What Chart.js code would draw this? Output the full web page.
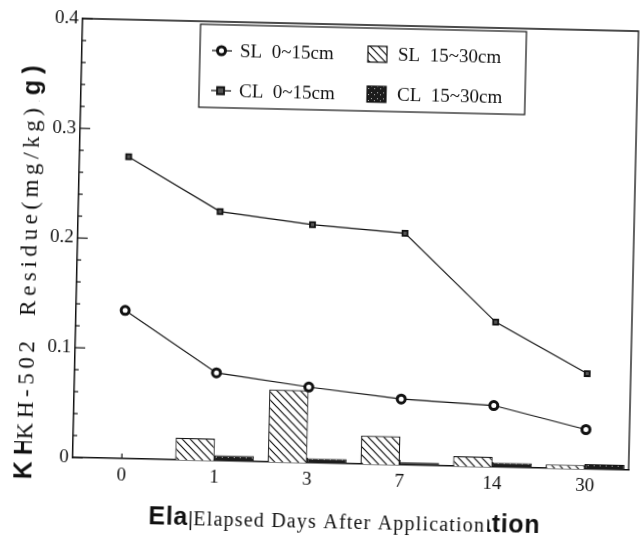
<!DOCTYPE html>
<html>
<head>
<meta charset="utf-8">
<script src="https://cdn.jsdelivr.net/npm/chart.js@4.4.1/dist/chart.umd.min.js"></script>
<style>
  html, body { margin: 0; padding: 0; background: #fff; overflow: hidden; }
  #wrap { width: 640px; height: 544px; }
  /* the scanned figure is tilted a little */
  #chart { display: block; transform: rotate(1.3deg); transform-origin: 320px 272px; }
</style>
</head>
<body>
<div id="wrap"><canvas id="chart" width="640" height="544"></canvas></div>
<script>
/*-----------------------------
Data
------------------------------*/
const days = ['0', '1', '3', '7', '14', '30'];
const slTop = [0.135, 0.080, 0.069, 0.060, 0.056, 0.036];   // SL 0~15cm
const clTop = [0.275, 0.227, 0.217, 0.211, 0.132, 0.087];   // CL 0~15cm
const slSub = [0, 0.020, 0.066, 0.026, 0.009, 0.0035];      // SL 15~30cm
const clSub = [0, 0.005, 0.004, 0.0025, 0.004, 0.0045];     // CL 15~30cm
const yTicks = [0, 0.1, 0.2, 0.3, 0.4];

const yTitle = 'KH-502  Residue(mg/kg)';
const xTitle = 'Elapsed Days After Application';

const serif = '"Liberation Serif", "DejaVu Serif", serif';
const sans = '"Liberation Sans", "DejaVu Sans", sans-serif';

//----------------------------------------
// fill patterns
//----------------------------------------
function hatch() {
  const c = document.createElement('canvas');
  c.width = 8; c.height = 8;
  const g = c.getContext('2d');
  g.fillStyle = '#fff';
  g.fillRect(0, 0, 8, 8);
  g.strokeStyle = '#111';
  g.lineWidth = 1.2;
  g.beginPath();
  g.moveTo(-2, -2); g.lineTo(10, 10);
  g.moveTo(-10, -2); g.lineTo(2, 10);
  g.moveTo(6, -2); g.lineTo(18, 10);
  g.stroke();
  return g.createPattern(c, 'repeat');
}
function speckle() {
  const c = document.createElement('canvas');
  c.width = 6; c.height = 6;
  const g = c.getContext('2d');
  g.fillStyle = '#1c1c1c';
  g.fillRect(0, 0, 6, 6);
  g.fillStyle = '#bbb';
  g.fillRect(1, 1, 1, 1);
  g.fillRect(4, 3, 1, 1);
  return g.createPattern(c, 'repeat');
}
const hatchFill = hatch();
const darkFill = speckle();

const pts = arr => arr.map((v, i) => ({x: i, y: v}));

// stretch a string to a given length with letter spacing
function spaced(ctx, text, len) {
  ctx.letterSpacing = '0px';
  const gap = (len - ctx.measureText(text).width) / text.length;
  ctx.letterSpacing = gap + 'px';
}

//----------------------------------------
// frame, inner ticks, legend box, titles
//----------------------------------------
const decor = {
  id: 'decor',
  afterDraw(chart) {
    const {ctx, chartArea: a, scales: {x, y}} = chart;
    ctx.save();
    ctx.strokeStyle = '#111';
    ctx.lineWidth = 1.3;
    ctx.beginPath();
    ctx.moveTo(a.left, a.top); ctx.lineTo(a.right, a.top); ctx.lineTo(a.right, a.bottom);
    ctx.stroke();

    // y ticks pointing inwards, minor every 0.02
    ctx.lineWidth = 1.2;
    for (let k = 0; k <= 20; k++) {
      const py = y.getPixelForValue(k * 0.02);
      const len = k % 5 === 0 ? 10 : 4;
      ctx.beginPath(); ctx.moveTo(a.left, py); ctx.lineTo(a.left + len, py); ctx.stroke();
    }
    // x ticks pointing inwards
    days.forEach((d, i) => {
      const px = x.getPixelForValue(i);
      ctx.beginPath(); ctx.moveTo(px, a.bottom); ctx.lineTo(px, a.bottom - 5); ctx.stroke();
    });

    // legend
    const ds = chart.data.datasets;
    ctx.lineWidth = 1.2;
    ctx.strokeRect(195, 27, 326, 83);
    ctx.font = '19px ' + serif;
    ctx.fillStyle = '#111';
    ctx.textBaseline = 'middle';
    const rows = [[0, 2], [1, 3]];
    rows.forEach((r, j) => {
      const cy = 53 + j * 40;
      const line = ds[r[0]], bar = ds[r[1]];
      ctx.lineWidth = 1.2;
      ctx.beginPath(); ctx.moveTo(207, cy); ctx.lineTo(227, cy); ctx.stroke();
      ctx.lineWidth = line.pointBorderWidth;
      ctx.fillStyle = line.pointBackgroundColor;
      ctx.beginPath();
      if (line.pointStyle === 'rect') ctx.rect(213, cy - 3.5, 7, 7);
      else ctx.arc(216.5, cy, 4, 0, Math.PI * 2);
      ctx.fill(); ctx.stroke();
      ctx.fillStyle = '#111';
      ctx.fillText(line.label, 235, cy + 1);

      ctx.fillStyle = bar.backgroundColor;
      ctx.fillRect(363, cy - 8, 19, 16);
      ctx.lineWidth = 1.2;
      ctx.strokeRect(363, cy - 8, 19, 16);
      ctx.fillStyle = '#111';
      ctx.fillText(bar.label, 393, cy + 1);
    });

    // titles: a larger sans title shows round the ends of the serif one
    ctx.textAlign = 'center';
    ctx.textBaseline = 'middle';
    // x title
    ctx.font = 'bold 25px ' + sans;
    spaced(ctx, xTitle, 392);
    ctx.fillStyle = '#111';
    ctx.fillText(xTitle, 350, 521);
    ctx.font = '20px ' + serif;
    spaced(ctx, xTitle, 292);
    let w = 292;
    ctx.fillStyle = '#fff';
    ctx.fillRect(345 - w / 2 - 2, 506, w + 4, 30);
    ctx.fillStyle = '#111';
    ctx.fillText(xTitle, 345, 523);

    // y title
    ctx.translate(29, 278);
    ctx.rotate(-Math.PI / 2);
    ctx.font = 'bold 25px ' + sans;
    spaced(ctx, yTitle, 420);
    ctx.fillText(yTitle, 2, 0);
    ctx.font = '23px ' + serif;
    spaced(ctx, yTitle, 336);
    w = 336;
    ctx.fillStyle = '#fff';
    ctx.fillRect(-w / 2 - 2, -14, w + 4, 28);
    ctx.fillStyle = '#111';
    ctx.fillText(yTitle, 0, 1);
    ctx.restore();
  }
};

//----------------------------------------
// chart
//----------------------------------------
new Chart(document.getElementById('chart'), {
  data: {
    datasets: [
      {
        type: 'line', label: 'SL  0~15cm', data: pts(slTop), order: 1,
        borderColor: '#111', borderWidth: 1.2,
        pointStyle: 'circle', pointRadius: 4, pointBorderWidth: 3,
        pointBackgroundColor: '#fff', pointBorderColor: '#111'
      },
      {
        type: 'line', label: 'CL  0~15cm', data: pts(clTop), order: 1,
        borderColor: '#111', borderWidth: 1.2,
        pointStyle: 'rect', pointRadius: 3.5, pointBorderWidth: 1.8,
        pointBackgroundColor: '#555', pointBorderColor: '#111'
      },
      {
        type: 'bar', label: 'SL  15~30cm', data: pts(slSub), order: 2,
        backgroundColor: hatchFill, borderColor: '#111', borderWidth: 1.2,
        categoryPercentage: 0.85, barPercentage: 1
      },
      {
        type: 'bar', label: 'CL  15~30cm', data: pts(clSub), order: 2,
        backgroundColor: darkFill, borderColor: '#111', borderWidth: 1,
        categoryPercentage: 0.85, barPercentage: 1
      }
    ]
  },
  options: {
    responsive: false,
    animation: false,
    layout: { padding: { left: 0, top: 24, right: 5, bottom: 0 } },
    plugins: { legend: { display: false }, tooltip: { enabled: false } },
    scales: {
      x: {
        type: 'linear', min: -0.53, max: 5.47, offset: false,
        afterBuildTicks: s => { s.ticks = days.map((d, i) => ({value: i})); },
        afterFit: s => { s.height = 81; },
        grid: { display: false, drawTicks: false, offset: false },
        border: { display: true, color: '#111', width: 1.5 },
        ticks: {
          padding: 6, color: '#111', font: { family: serif, size: 19 },
          maxRotation: 0, callback: v => days[v]
        }
      },
      y: {
        min: 0, max: 0.4,
        afterBuildTicks: s => { s.ticks = yTicks.map(v => ({value: v})); },
        afterFit: s => { s.width = 77; },
        grid: { display: false, drawTicks: false },
        border: { display: true, color: '#111', width: 1.5 },
        ticks: {
          padding: 4, color: '#111', font: { family: serif, size: 19 },
          callback: v => v === 0 ? '0' : v.toFixed(1)
        }
      }
    }
  },
  plugins: [decor]
});
</script>
</body>
</html>
